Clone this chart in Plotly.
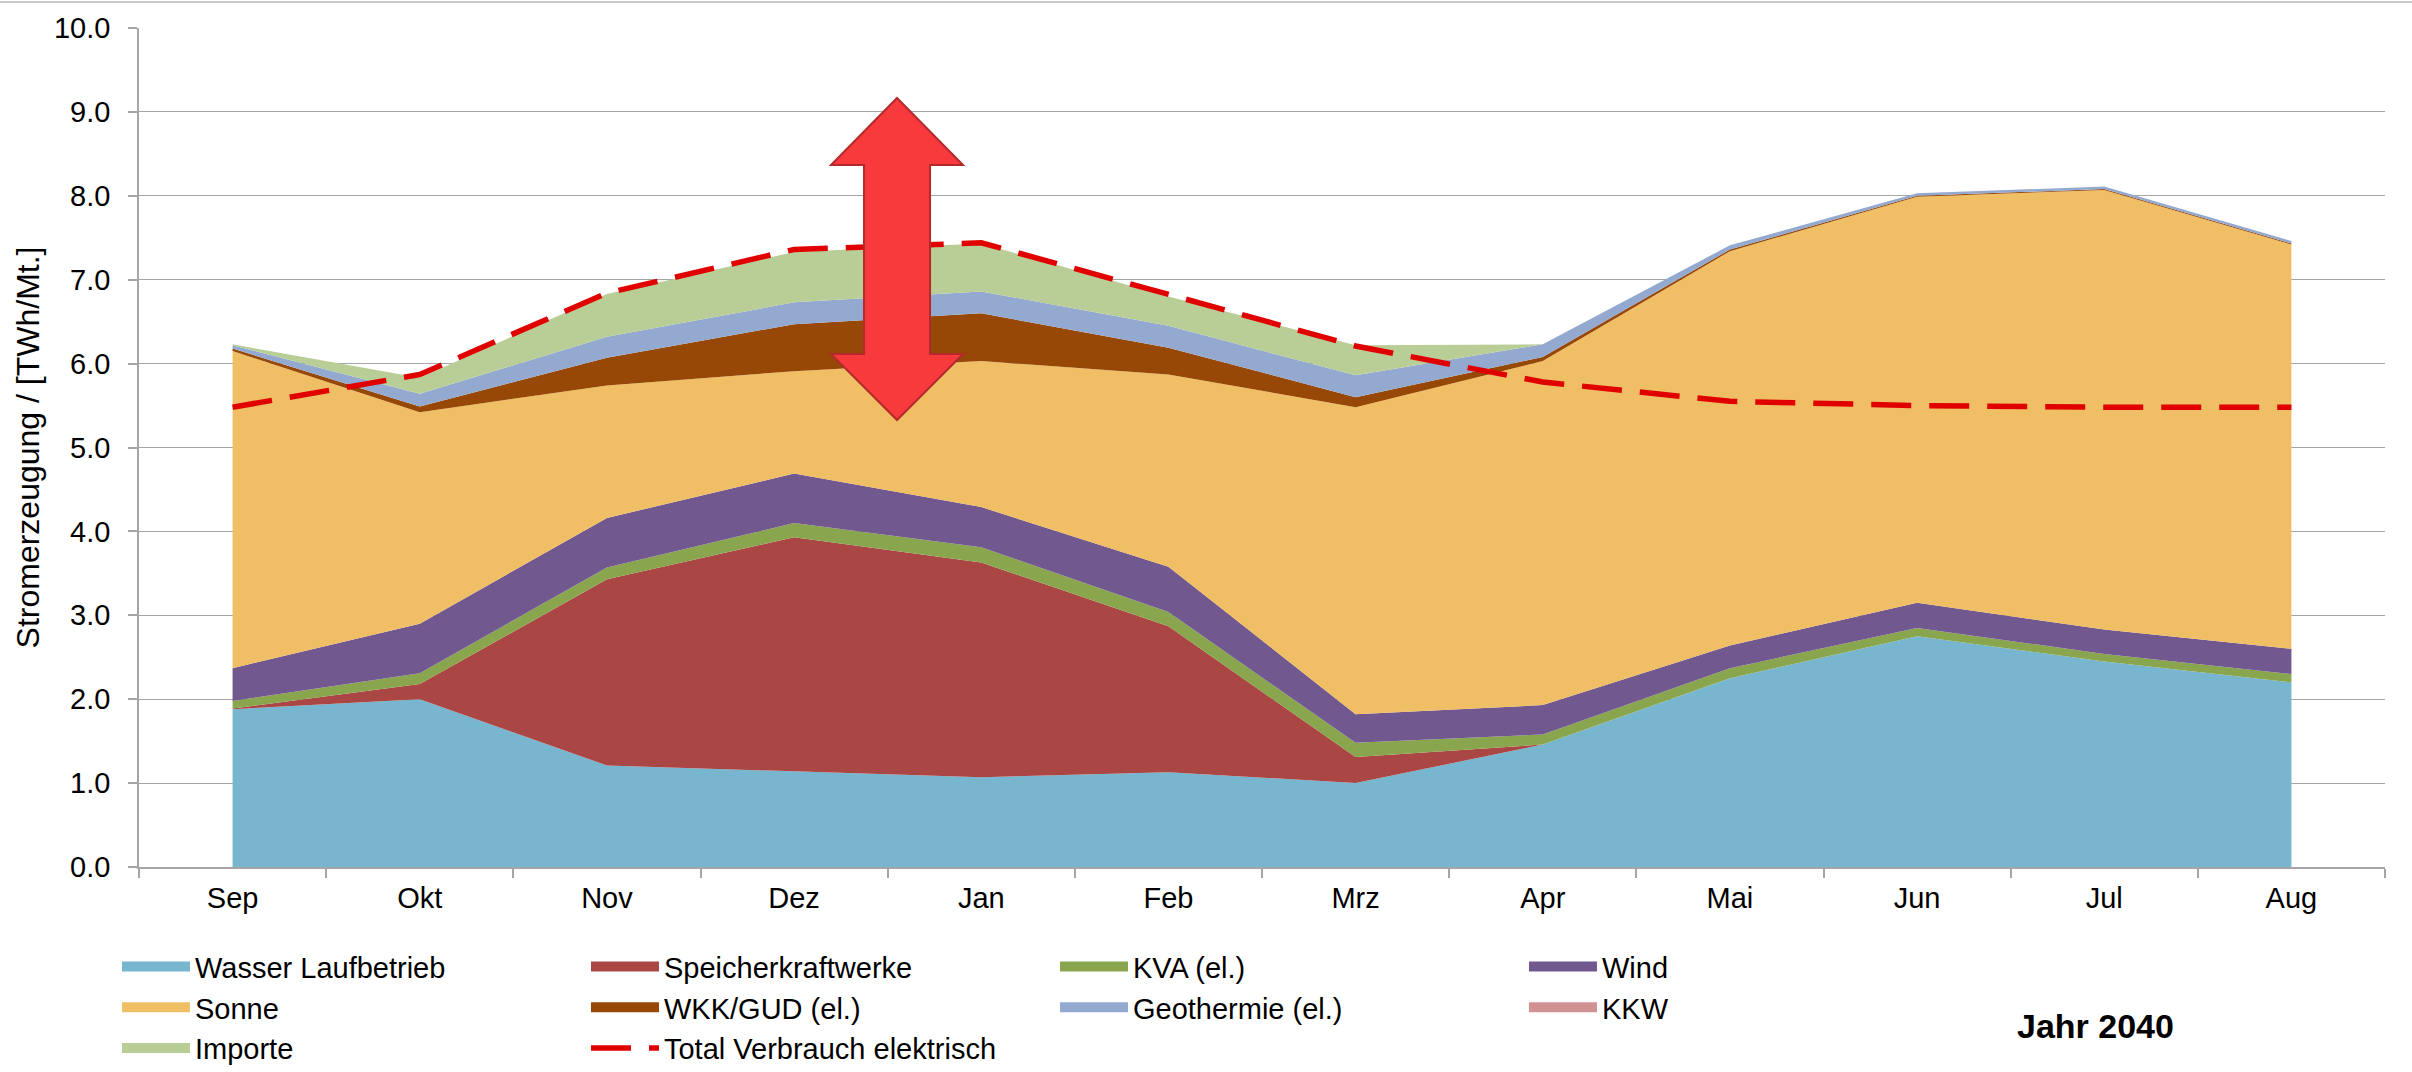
import plotly.graph_objects as go

# ---------------- data ----------------
months = ["Sep", "Okt", "Nov", "Dez", "Jan", "Feb", "Mrz", "Apr", "Mai", "Jun", "Jul", "Aug"]

wasser   = [1.88, 2.00, 1.21, 1.14, 1.07, 1.13, 1.00, 1.46, 2.25, 2.75, 2.45, 2.20]
speicher = [0.01, 0.18, 2.22, 2.79, 2.56, 1.74, 0.31, 0.00, 0.00, 0.00, 0.00, 0.00]
kva      = [0.09, 0.13, 0.14, 0.17, 0.18, 0.17, 0.17, 0.12, 0.12, 0.10, 0.09, 0.10]
wind     = [0.39, 0.59, 0.59, 0.59, 0.48, 0.54, 0.34, 0.35, 0.27, 0.30, 0.29, 0.30]
sonne    = [3.78, 2.52, 1.58, 1.22, 1.74, 2.29, 3.66, 4.10, 4.70, 4.84, 5.24, 4.82]
wkk      = [0.03, 0.07, 0.33, 0.56, 0.57, 0.32, 0.12, 0.05, 0.02, 0.01, 0.01, 0.01]
geo      = [0.04, 0.15, 0.25, 0.26, 0.26, 0.26, 0.26, 0.15, 0.05, 0.03, 0.03, 0.03]
kkw      = [0.00, 0.00, 0.00, 0.00, 0.00, 0.00, 0.00, 0.00, 0.00, 0.00, 0.00, 0.00]
importe  = [0.01, 0.19, 0.51, 0.60, 0.57, 0.35, 0.36, 0.00, 0.00, 0.00, 0.00, 0.00]
verbrauch = [5.48, 5.87, 6.84, 7.36, 7.44, 6.83, 6.21, 5.78, 5.55, 5.50, 5.48, 5.48]

y_ticks = [0, 1, 2, 3, 4, 5, 6, 7, 8, 9, 10]

series = [
    ("Wasser Laufbetrieb", wasser, "#78B6CF"),
    ("Speicherkraftwerke", speicher, "#AA4643"),
    ("KVA (el.)", kva, "#89A54E"),
    ("Wind", wind, "#71588F"),
    ("Sonne", sonne, "#F0BE64"),
    ("WKK/GUD (el.)", wkk, "#974706"),
    ("Geothermie (el.)", geo, "#93A9CF"),
    ("KKW", kkw, "#D19392"),
    ("Importe", importe, "#B9CD96"),
]

FONT = "Liberation Sans, Arial, sans-serif"
FS = 29

fig = go.Figure()

# stacked areas
for name, vals, col in series:
    fig.add_trace(go.Scatter(
        x=months, y=vals, name=name, legendgroup=name, showlegend=False,
        mode="lines", stackgroup="prod", line=dict(width=0, color=col),
        fillcolor=col, hoverinfo="x+y+name",
    ))

# legend swatches (legend-only entries)
for name, vals, col in series:
    fig.add_trace(go.Scatter(
        x=[None], y=[None], name=name, legendgroup=name, mode="lines",
        line=dict(width=10, color=col), showlegend=True, hoverinfo="skip",
    ))

fig.add_trace(go.Scatter(
    x=months, y=verbrauch, name="Total Verbrauch elektrisch", mode="lines",
    line=dict(color="#E00000", width=5.5, dash="40px,18px"),
))

# double arrow (x in paper fraction, y in data units)
arrow_x = [0.3375, 0.3669, 0.3522, 0.3522, 0.3669, 0.3375, 0.3081, 0.3228, 0.3228, 0.3081]
arrow_y = [9.166, 8.367, 8.367, 6.114, 6.114, 5.328, 6.114, 6.114, 8.367, 8.367]
path = "M " + " L ".join(f"{a},{b}" for a, b in zip(arrow_x, arrow_y)) + " Z"
fig.add_shape(type="path", path=path, xref="paper", yref="y",
              fillcolor="#F83A3D", line=dict(color="#B42A2C", width=2), layer="above")

# chart border line on top
fig.add_shape(type="line", xref="paper", yref="paper", x0=-0.07, x1=1.02, y0=1.031, y1=1.031,
              line=dict(color="#C8C8C8", width=2))

fig.add_annotation(text="<b>Jahr 2040</b>", xref="paper", yref="paper", x=0.871, y=-0.1895,
                   xanchor="center", yanchor="middle",
                   showarrow=False, font=dict(family=FONT, size=34, color="#000000"))

fig.update_layout(
    width=2412, height=1072,
    margin=dict(l=139, r=27, t=28, b=205, autoexpand=False),
    paper_bgcolor="white", plot_bgcolor="white",
    font=dict(family=FONT, size=FS, color="#000000"),
    showlegend=True,
    legend=dict(
        orientation="h", xref="container", yref="container",
        x=0.0485, y=0.122, xanchor="left", yanchor="top",
        itemwidth=68, entrywidth=386, entrywidthmode="pixels",
        font=dict(family=FONT, size=FS, color="#000000"),
        traceorder="normal", bgcolor="rgba(0,0,0,0)",
    ),
    xaxis=dict(
        type="category", categoryorder="array", categoryarray=months,
        range=[-0.5, 11.5], tickson="boundaries", ticks="outside", ticklen=9,
        tickcolor="#A6A6A6", tickwidth=1.5, showline=True, linecolor="#A6A6A6", linewidth=1.5,
        showgrid=False, tickfont=dict(family=FONT, size=FS, color="#000000"),
        ticklabelstandoff=4, automargin=False,
    ),
    yaxis=dict(
        range=[0, 10], tickvals=y_ticks, tickformat=".1f", ticks="outside", ticklen=9,
        tickcolor="#A6A6A6", tickwidth=1.5, showline=True, linecolor="#A6A6A6", linewidth=1.5,
        showgrid=True, gridcolor="#A6A6A6", gridwidth=1.3, zeroline=False,
        tickfont=dict(family=FONT, size=FS, color="#000000"), ticklabelstandoff=12,
        automargin=False,
        title=dict(text="Stromerzeugung / [TWh/Mt.]", font=dict(family=FONT, size=32, color="#000000"),
                   standoff=5),
    ),
)

fig.write_html("out.html", config={"displayModeBar": False},
               post_script="document.body.style.margin='0';")
